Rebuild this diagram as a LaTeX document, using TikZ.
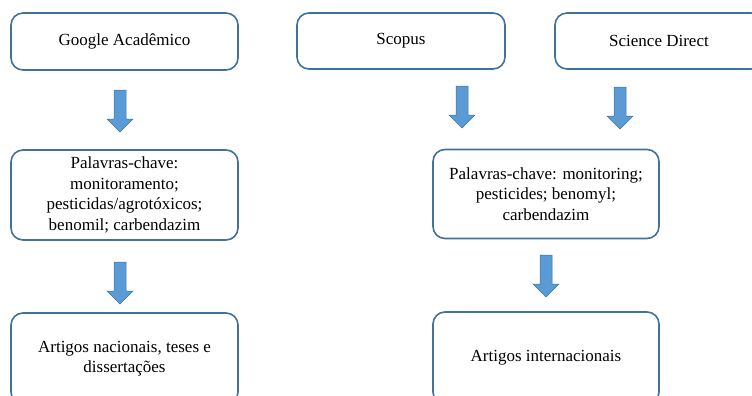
\documentclass[tikz,border=0pt]{standalone}
\usepackage{fontspec}
\setmainfont{Liberation Serif}
\usepackage{tikz}
\usepackage{xcolor}
\definecolor{bordBleu}{HTML}{41719C}
\definecolor{flecheBleu}{HTML}{5B9BD5}
\tikzset{
Boite/.style={
 draw=bordBleu,
 fill=white,
 line width=1.6pt,
 rounded corners=12pt,
 align=center,
 inner sep=0pt,
 font=\rmfamily\fontsize{17}{20.5}\selectfont
 },
Fleche/.pic={
 \filldraw[fill=flecheBleu, draw=bordBleu, line width=0.5pt]
 (-6,0) -- (6,0) -- (6,29) -- (13,29) -- (0,42) -- (-13,29) -- (-6,29) -- cycle;
 }
}
\begin{document}
\begin{tikzpicture}[x=1pt,y=-1pt]
\clip (0,0) rectangle (752,396);
\fill[white] (0,0) rectangle (752,396);
% sources
\node[Boite, minimum width=227pt, minimum height=57pt] (gAcad) at (124.5,41.5) {Google Acadêmico};
\node[Boite, minimum width=208pt, minimum height=56pt] (scopus) at (401,41) {Scopus};
\node[Boite, minimum width=208pt, minimum height=56pt] (sciDir) at (659,41) {Science Direct};
% mots-cles
\node[Boite, minimum width=227pt, minimum height=90pt] (palPt) at (124.5,195) {Palavras-chave:\\ monitoramento;\\ pesticidas/agrotóxicos;\\ benomil; carbendazim};
\node[Boite, minimum width=226pt, minimum height=89pt] (palEn) at (546,194) {Palavras-chave: monitoring;\\ pesticides; benomyl;\\ carbendazim};
% resultats
\node[Boite, minimum width=227pt, minimum height=91pt] (artNac) at (124.5,358.5) {Artigos nacionais, teses e\\ dissertações};
\node[Boite, minimum width=226pt, minimum height=92pt] (artInt) at (546,358) {Artigos internacionais};
% fleches
\pic at (120,90) {Fleche};
\pic at (462,86) {Fleche};
\pic at (620,87) {Fleche};
\pic at (120,262) {Fleche};
\pic at (546,255) {Fleche};
\end{tikzpicture}
\end{document}
